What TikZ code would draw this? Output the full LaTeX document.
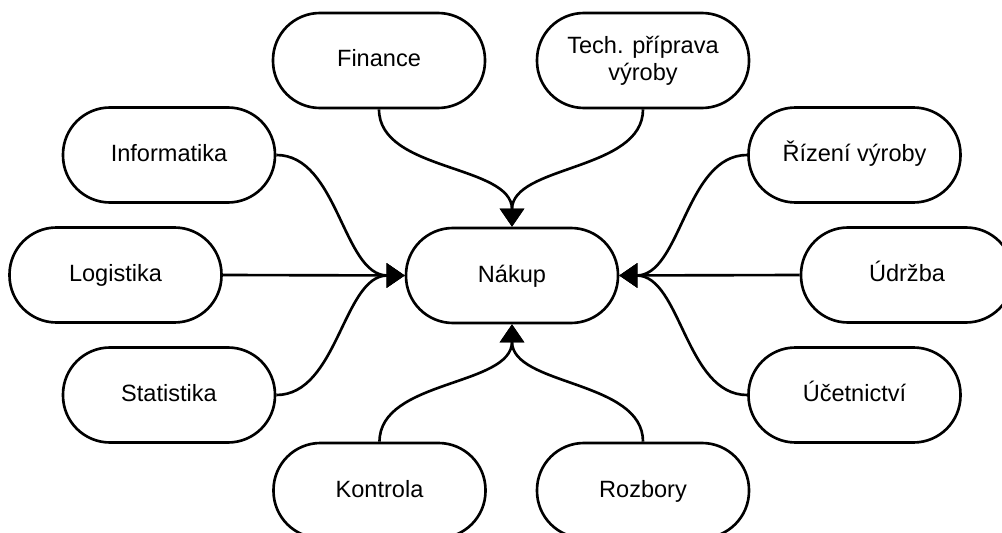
\documentclass[tikz,border=0pt]{standalone}
\usepackage{fontspec}
\setmainfont{Liberation Sans}
\usetikzlibrary{arrows.meta}
\begin{document}
\begin{tikzpicture}[
  box/.style={draw, line width=1.5pt, rounded corners=0.94cm, minimum width=4.24cm, minimum height=1.9cm, align=center, font=\fontsize{13.4pt}{15.3pt}\selectfont, inner sep=0pt},
  onebox/.style={box, text height=9.6pt, text depth=2.2pt},
  conn/.style={line width=1.5pt, -{Triangle[length=0.36cm,width=0.48cm]}}
]
\useasboundingbox (0,0) rectangle (20.04,-10.66);
\node[onebox] (fin) at (7.58,-1.21) {Finance};
\node[box] (tech) at (12.86,-1.21) {Tech. příprava\\výroby};
\node[onebox] (inf) at (3.38,-3.10) {Informatika};
\node[onebox] (log) at (2.31,-5.50) {Logistika};
\node[onebox] (stat) at (3.38,-7.90) {Statistika};
\node[onebox] (nak) at (10.24,-5.51) {Nákup};
\node[onebox] (riz) at (17.09,-3.10) {Řízení výroby};
\node[onebox] (udr) at (18.14,-5.50) {Údržba};
\node[onebox] (uce) at (17.09,-7.90) {Účetnictví};
\node[onebox] (kon) at (7.59,-9.81) {Kontrola};
\node[onebox] (roz) at (12.86,-9.81) {Rozbory};
\draw[conn] (fin.south) to[out=-90,in=90,looseness=0.9] (nak.north);
\draw[conn] (tech.south) to[out=-90,in=90,looseness=0.9] (nak.north);
\draw[conn] (inf.east) to[out=0,in=180,looseness=0.9] (nak.west);
\draw[conn] (log.east) -- (nak.west);
\draw[conn] (stat.east) to[out=0,in=180,looseness=0.9] (nak.west);
\draw[conn] (riz.west) to[out=180,in=0,looseness=0.9] (nak.east);
\draw[conn] (udr.west) -- (nak.east);
\draw[conn] (uce.west) to[out=180,in=0,looseness=0.9] (nak.east);
\draw[conn] (kon.north) to[out=90,in=-90,looseness=0.9] (nak.south);
\draw[conn] (roz.north) to[out=90,in=-90,looseness=0.9] (nak.south);
\end{tikzpicture}
\end{document}
